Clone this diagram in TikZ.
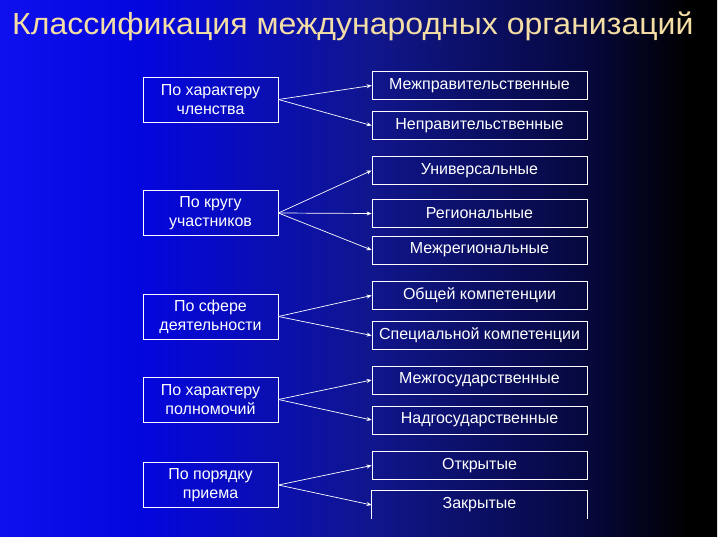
\documentclass[tikz,border=0pt]{standalone}
\usepackage{fontspec}
\setmainfont{Liberation Sans}
\usepackage{tikz}
\usetikzlibrary{arrows.meta}
\definecolor{bgleft}{RGB}{14,16,238}
\definecolor{bgblue}{RGB}{4,6,222}
\definecolor{bgmid}{RGB}{16,22,140}
\definecolor{bgnavy}{RGB}{6,8,60}
\definecolor{titlegold}{RGB}{244,222,165}
% the path spans 25bp..75bp of the shading
\pgfdeclarehorizontalshading{slidebg}{100bp}{color(0bp)=(bgleft); color(25bp)=(bgleft); color(35bp)=(bgblue); color(51bp)=(bgmid); color(66bp)=(bgnavy); color(73bp)=(black); color(100bp)=(black)}

\begin{document}
\begin{tikzpicture}[x=1pt, y=-1pt,
    critbox/.style={draw=white, line width=0.8pt, text=white, align=center, inner sep=0pt,
      minimum width=135pt, minimum height=45pt, font=\fontsize{16}{19}\selectfont},
    typebox/.style={draw=white, line width=0.8pt, text=white, align=center, inner sep=0pt,
      minimum width=215pt, minimum height=28pt, font=\fontsize{16}{19}\selectfont},
    link/.style={-{Stealth[length=5pt, width=4pt]}, white, line width=0.7pt}]
  \useasboundingbox (0,0) rectangle (720,540);
  \fill[white] (0,0) rectangle (720,540);
  \shade[shading=slidebg] (0,0) rectangle (717,536);

  \node[anchor=base west, text=titlegold, inner sep=0pt, font=\fontsize{30.5}{35}\selectfont]
    (title) at (12,35) {\scalebox{1.05}[1]{Классификация международных организаций}};

  % criteria
  \node[critbox] (member) at (210.5,99.5) {По характеру\\членства};
  \node[critbox] (circle) at (210.5,213) {По кругу\\участников};
  \node[critbox] (sphere) at (210.5,316.5) {По сфере\\деятельности};
  \node[critbox] (power) at (210.5,399.5) {По характеру\\полномочий};
  \node[critbox] (admit) at (210.5,485) {По порядку\\приема};

  % types
  \node[typebox] (intergov) at (479.5,85.5) {Межправительственные};
  \node[typebox] (nongov) at (479.5,125.5) {Неправительственные};
  \node[typebox] (univ) at (479.5,170.5) {Универсальные};
  \node[typebox] (region) at (479.5,213.5) {Региональные};
  \node[typebox] (interreg) at (479.5,250) {Межрегиональные};
  \node[typebox] (general) at (479.5,295.5) {Общей компетенции};
  \node[typebox] (special) at (479.5,335.5) {Специальной компетенции};
  \node[typebox] (interstate) at (479.5,380) {Межгосударственные};
  \node[typebox] (suprastate) at (479.5,420) {Надгосударственные};
  \node[typebox] (open) at (479.5,465.5) {Открытые};
  \node[typebox, draw=none] (closed) at (479.5,505) {Закрытые};
  \draw[white, line width=0.8pt] (closed.south west) -- (closed.north west)
    -- (closed.north east) -- (closed.south east);

  \draw[link] (member.east) -- (intergov.west);
  \draw[link] (member.east) -- (nongov.west);
  \draw[link] (circle.east) -- (univ.west);
  \draw[link] (circle.east) -- (region.west);
  \draw[link] (circle.east) -- (interreg.west);
  \draw[link] (sphere.east) -- (general.west);
  \draw[link] (sphere.east) -- (special.west);
  \draw[link] (power.east) -- (interstate.west);
  \draw[link] (power.east) -- (suprastate.west);
  \draw[link] (admit.east) -- (open.west);
  \draw[link] (admit.east) -- (closed.west);
\end{tikzpicture}
\end{document}
